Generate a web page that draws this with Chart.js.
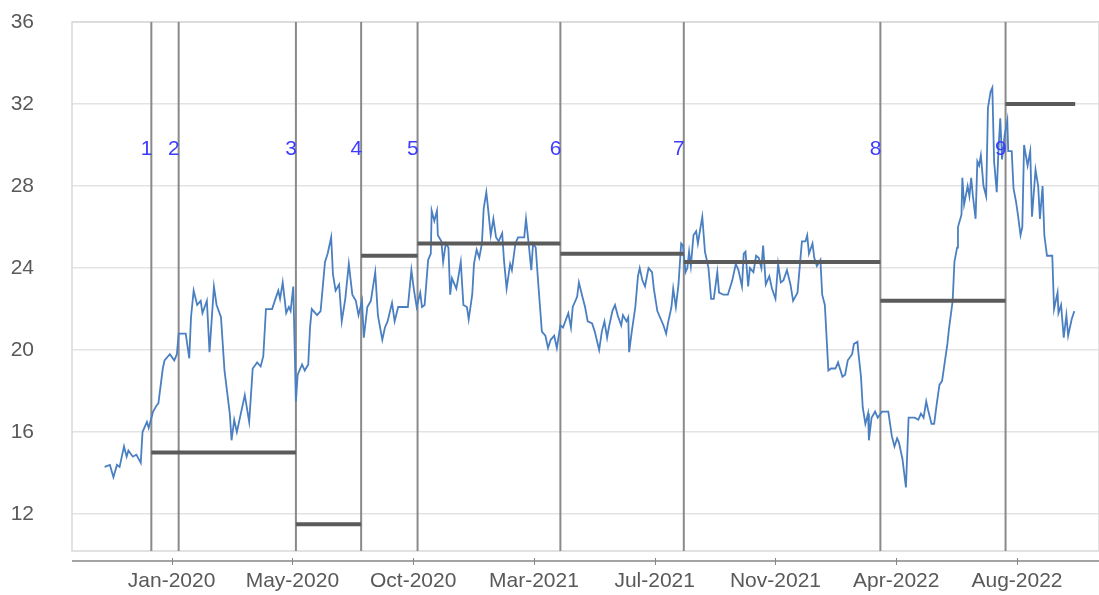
<!DOCTYPE html>
<html>
<head>
<meta charset="utf-8">
<script src="https://cdn.jsdelivr.net/npm/chart.js@4.4.0/dist/chart.umd.min.js"></script>
<style>
  html, body { margin: 0; padding: 0; background: #ffffff; }
  #wrap { width: 1099px; height: 595px; }
</style>
</head>
<body>
<div id="wrap"><canvas id="c" width="1099" height="595"></canvas></div>
<script>
// x values are days since 2020-01-01
const tickDays   = [14, 151, 288, 425, 562, 699, 836, 973];
const tickLabels = ['Jan-2020', 'May-2020', 'Oct-2020', 'Mar-2021', 'Jul-2021', 'Nov-2021', 'Apr-2022', 'Aug-2022'];
const yTicks     = [12, 16, 20, 24, 28, 32, 36];

const eventDays   = [-9, 22, 155, 229, 293, 455, 595, 818, 960];
const eventLabels = ['1', '2', '3', '4', '5', '6', '7', '8', '9'];

const segStart = [-9, 155, 229, 293, 455, 595, 818, 960];
const segEnd   = [155, 229, 293, 455, 595, 818, 960, 1039];
const segLevel = [15.0, 11.5, 24.6, 25.2, 24.7, 24.3, 22.4, 32.0];

const seriesDays = [
  -62,-56,-52,-48,-45,-40,-37,-35,-30,-26,-21,-19,-14,-12,-7,-3,-1,4,6,12,17,20,22,30,34,36,39,43,47,49,54,57,62,65,70,74,80,82,85,88,94,97,102,106,111,115,118,121,128,131,135,137,140,144,147,149,152,
  155,157,162,165,169,171,173,179,183,188,191,195,197,200,204,207,211,215,219,223,226,230,232,236,240,245,248,253,256,259,264,267,271,282,286,289,292,296,298,301,305,308,309,312,315,316,320,322,325,328,330,332,337,339,342,345,349,351,355,357,360,363,366,368,371,373,376,379,382,385,389,391,394,398,400,404,407,414,416,419,422,424,427,430,434,438,441,444,448,451,
  455,458,464,467,469,474,476,480,483,486,491,494,499,502,505,508,510,514,517,520,524,526,530,532,533,536,540,543,545,548,551,555,559,561,565,568,572,575,577,581,583,586,589,592,594,597,599,601,603,606,609,611,614,616,619,623,626,629,633,635,640,645,650,654,657,661,663,665,668,670,674,677,680,683,685,688,692,695,699,702,705,708,712,716,719,724,727,729,733,735,737,741,743,746,750,752,755,759,762,767,770,775,778,781,786,788,792,793,796,798,801,804,805,808,812,815,
  820,823,827,831,834,837,839,843,845,847,850,854,857,861,864,867,870,872,876,879,882,885,888,890,894,896,900,902,905,906,910,911,913,917,919,921,923,926,928,930,932,935,938,940,943,945,947,950,952,954,956,959,962,963,967,969,972,974,977,979,981,985,988,990,994,997,999,1002,1004,1007,1013,1015,1019,1020,1023,1026,1029,1031,1035,1038
];
const seriesValues = [
  14.3,14.4,13.8,14.4,14.3,15.3,14.8,15.1,14.8,14.9,14.5,16.0,16.5,16.2,17.0,17.3,17.4,19.1,19.5,19.8,19.5,19.8,20.8,20.8,19.6,21.6,22.9,22.2,22.4,21.8,22.4,19.9,23.1,22.2,21.6,19.0,16.9,15.6,16.6,16.0,17.2,17.8,16.5,19.1,19.4,19.2,19.7,22.0,22.0,22.4,22.9,22.5,23.3,21.8,22.1,21.9,23.1,
  17.5,18.8,19.3,19.0,19.3,21.1,22.0,21.7,21.9,24.3,24.7,25.5,23.7,22.9,23.2,21.4,22.5,24.2,22.7,22.4,21.7,22.4,20.6,22.1,22.4,23.8,21.7,20.5,21.1,21.4,22.3,21.4,22.1,22.1,23.9,22.9,22.1,22.8,22.1,22.2,24.4,24.7,26.8,26.3,26.8,25.6,25.3,24.3,25.2,25.0,22.7,23.5,23.0,23.5,24.3,22.2,22.1,21.5,22.7,24.2,24.9,24.5,25.2,26.9,27.7,26.9,25.6,26.4,25.5,25.3,25.7,24.4,23.0,24.2,23.9,25.2,25.5,25.5,26.4,25.2,23.9,25.2,25.0,23.2,20.9,20.7,20.1,20.5,20.7,20.1,
  21.2,21.1,21.8,21.1,22.1,22.6,23.3,22.6,22.1,21.4,21.3,20.9,20.0,20.9,21.4,20.6,21.1,21.9,22.2,21.7,21.2,21.7,21.4,21.6,19.9,20.9,22.1,23.6,24.0,23.4,23.1,24.0,23.8,23.0,21.9,21.6,21.2,20.8,21.3,22.1,23.0,22.1,23.2,25.2,25.1,23.8,24.0,24.8,24.1,25.6,25.8,25.2,26.0,26.5,24.8,24.0,22.5,22.5,23.8,22.8,22.7,22.7,23.4,24.2,23.9,23.1,24.7,24.8,23.1,24.0,23.8,24.6,24.5,24.0,25.1,23.2,23.6,23.0,22.5,24.2,23.3,23.4,23.9,23.2,22.4,22.8,24.3,25.3,25.3,25.6,24.7,25.2,24.5,24.1,24.4,22.7,22.2,19.0,19.1,19.1,19.4,18.7,18.8,19.5,19.8,20.3,20.4,19.9,18.7,17.2,16.4,16.9,15.6,16.7,17.0,16.7,
  17.0,17.0,17.0,15.8,15.3,15.7,15.5,14.7,14.0,13.3,16.7,16.7,16.7,16.6,16.9,16.7,17.5,17.1,16.4,16.4,17.4,18.3,18.5,19.1,20.3,21.1,22.4,24.3,25.0,26.0,26.6,28.4,27.1,28.0,27.5,28.4,27.5,26.4,29.2,29.0,29.5,28.0,27.5,31.8,32.6,32.8,29.2,27.7,29.8,31.3,29.3,30.5,31.2,29.7,29.7,27.9,27.2,26.6,25.6,26.0,30.0,29.0,29.7,26.5,28.8,28.0,26.4,28.0,25.6,24.6,24.6,22.0,22.8,21.8,22.2,20.6,21.7,20.7,21.5,21.9
];

const X_MIN = -99, X_MAX = 1066, Y_MIN = 10.2, Y_MAX = 36;
const LABEL_LEVEL = 29.8;
const FONT = '"Liberation Sans", Arial, sans-serif';

const eventData = [];
eventDays.forEach(d => {
  eventData.push({x: d, y: Y_MIN}, {x: d, y: Y_MAX}, {x: d, y: null});
});
const segData = [];
segLevel.forEach((v, i) => {
  segData.push({x: segStart[i], y: v}, {x: segEnd[i], y: v}, {x: segEnd[i], y: null});
});
const lineData = seriesDays.map((d, i) => ({x: d, y: seriesValues[i]}));

const framePlugin = {
  id: 'frame',
  beforeDatasetsDraw(chart) {
    const {ctx, chartArea: a} = chart;
    ctx.save();
    ctx.strokeStyle = '#d9d9d9';
    ctx.lineWidth = 1.5;
    ctx.strokeRect(a.left, a.top, a.right - a.left, a.bottom - a.top);
    ctx.restore();
  },
  afterDraw(chart) {
    const {ctx, chartArea: a} = chart;
    const xs = chart.scales.x, ys = chart.scales.y;
    ctx.save();
    const axY = a.bottom + 10;
    ctx.strokeStyle = '#868686';
    ctx.lineWidth = 1.5;
    ctx.beginPath();
    ctx.moveTo(a.left, axY);
    ctx.lineTo(chart.width, axY);
    ctx.stroke();
    ctx.lineWidth = 1;
    tickDays.forEach(d => {
      const px = Math.round(xs.getPixelForValue(d)) + 0.5;
      ctx.beginPath();
      ctx.moveTo(px, axY - 3);
      ctx.lineTo(px, axY + 4);
      ctx.stroke();
    });
    ctx.fillStyle = '#3c3cff';
    ctx.font = '21px ' + FONT;
    ctx.textAlign = 'right';
    ctx.textBaseline = 'middle';
    const ly = ys.getPixelForValue(LABEL_LEVEL);
    eventDays.forEach((d, i) => {
      ctx.fillText(eventLabels[i], xs.getPixelForValue(d) + 1, ly);
    });
    ctx.restore();
  }
};

new Chart(document.getElementById('c'), {
  type: 'line',
  data: {
    datasets: [
      { data: eventData, borderColor: '#8a8a8a', borderWidth: 2, pointRadius: 0, spanGaps: false, order: 3 },
      { data: lineData, borderColor: '#4a7fc1', borderWidth: 1.8, pointRadius: 0, tension: 0, order: 2 },
      { data: segData, borderColor: '#5b5b5b', borderWidth: 4, pointRadius: 0, spanGaps: false, order: 1 }
    ]
  },
  options: {
    responsive: false,
    animation: false,
    events: [],
    layout: { padding: { top: 22, right: 0, left: 0, bottom: 0 } },
    plugins: { legend: { display: false }, tooltip: { enabled: false }, title: { display: false } },
    scales: {
      x: {
        type: 'linear',
        min: X_MIN,
        max: X_MAX,
        afterBuildTicks(s) { s.ticks = tickDays.map(v => ({value: v})); },
        afterFit(s) { s.height = 44; s.paddingLeft = 0; s.paddingRight = 0; s.paddingTop = 0; s.paddingBottom = 0; },
        grid: { display: false, drawTicks: false },
        border: { display: false },
        ticks: {
          autoSkip: false, maxRotation: 0, padding: 18,
          color: '#595959', font: { size: 21, family: FONT },
          callback: (v) => { const i = tickDays.indexOf(v); return i >= 0 ? tickLabels[i] : ''; }
        }
      },
      y: {
        type: 'linear',
        min: Y_MIN,
        max: Y_MAX,
        afterBuildTicks(s) { s.ticks = yTicks.map(v => ({value: v})); },
        afterFit(s) { s.width = 72; s.paddingTop = 0; s.paddingBottom = 0; s.paddingLeft = 0; s.paddingRight = 0; },
        grid: { color: '#e3e3e3', lineWidth: 1.5, drawTicks: false },
        border: { display: false },
        ticks: { padding: 38, color: '#595959', font: { size: 21, family: FONT } }
      }
    }
  },
  plugins: [framePlugin]
});
</script>
</body>
</html>
